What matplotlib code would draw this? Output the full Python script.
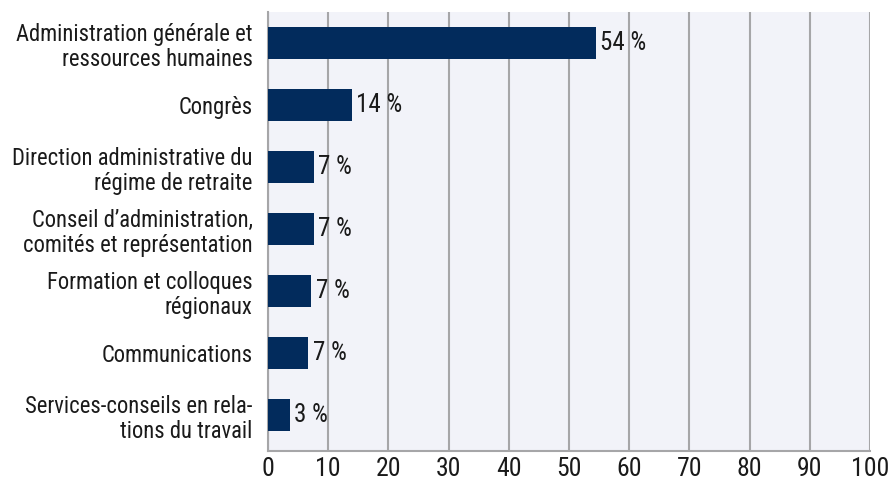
import matplotlib
matplotlib.use("Agg")
import matplotlib.pyplot as plt

categories = [
    "Administration générale et\nressources humaines",
    "Congrès",
    "Direction administrative du\nrégime de retraite",
    "Conseil d’administration,\ncomités et représentation",
    "Formation et colloques\nrégionaux",
    "Communications",
    "Services-conseils en rela-\ntions du travail",
]
values = [54.5, 14.0, 7.6, 7.6, 7.2, 6.7, 3.6]
value_labels = ["54 %", "14 %", "7 %", "7 %", "7 %", "7 %", "3 %"]
x_ticks = [0, 10, 20, 30, 40, 50, 60, 70, 80, 90, 100]

plt.rcParams["font.family"] = ["Roboto Condensed", "DejaVu Sans"]

fig = plt.figure(figsize=(8.93, 4.79), dpi=100)
ax = fig.add_axes([268 / 893, 1 - 451 / 479, (870 - 268) / 893, (451 - 12) / 479])
ax.set_facecolor("#f2f3f9")

y = list(range(len(categories)))
ax.barh(y, values, height=0.52, color="#022b5c", zorder=3)
for yi, v, lab in zip(y, values, value_labels):
    ax.text(v + 0.7, yi, lab, va="center", ha="left", fontsize=18, color="#1a1a1a", zorder=4)

ax.set_xlim(0, 100)
ax.set_ylim(len(categories) - 0.42, -0.5)
ax.set_xticks(x_ticks)
ax.set_xticklabels([str(t) for t in x_ticks], fontsize=18.5, color="#1a1a1a")
ax.set_yticks(y)
ax.set_yticklabels(categories, fontsize=16.3, color="#1a1a1a", linespacing=1.12)
ax.tick_params(axis="both", length=0)
ax.tick_params(axis="y", pad=11)
ax.tick_params(axis="x", pad=4)
ax.grid(axis="x", color="#a6a6a8", linewidth=1.5, zorder=1)
for s in ["top", "right"]:
    ax.spines[s].set_visible(False)
for s in ["left", "bottom"]:
    ax.spines[s].set_color("#a6a6a8")
    ax.spines[s].set_linewidth(1.5)
    ax.spines[s].set_zorder(2)

fig.savefig("out.png", dpi=100)
